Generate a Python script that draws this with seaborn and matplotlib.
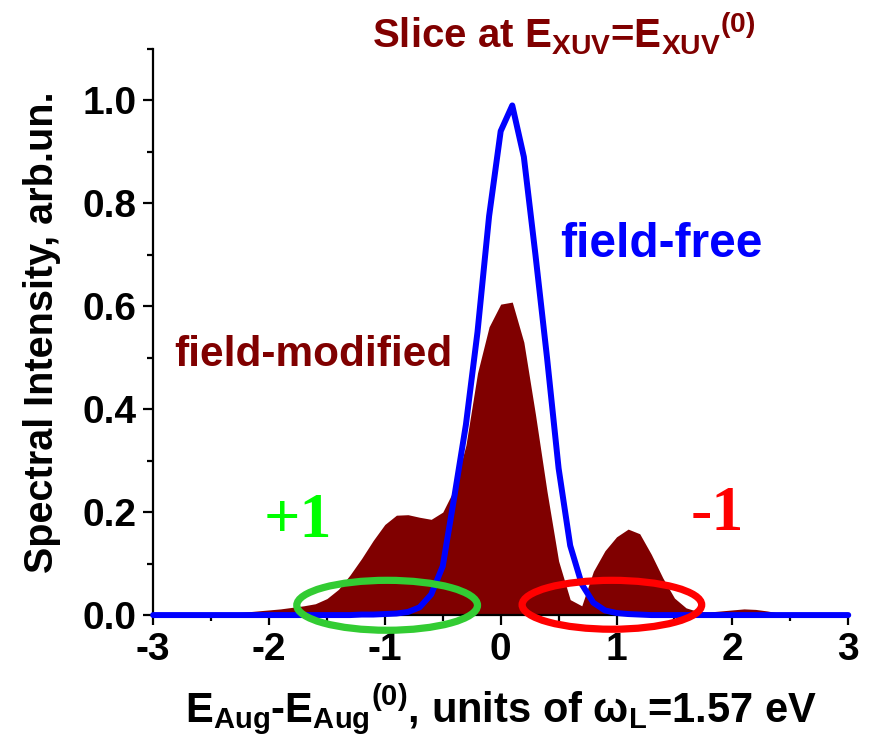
import numpy as np
import pandas as pd
import matplotlib
matplotlib.use("Agg")
import matplotlib.pyplot as plt
from matplotlib.patches import Ellipse
import seaborn as sns

# Energy grid (units of the laser photon energy) and the two spectral slices
energy = np.round(np.arange(-3.0, 3.01, 0.1), 1)

field_free = [
    0, 0, 0, 0, 0, 0, 0, 0, 0, 0,
    0, 0, 0, 0, 0, 0, 0, 0,
    0.001, 0.001, 0.002, 0.003, 0.006, 0.015, 0.04, 0.095, 0.23, 0.37, 0.55, 0.775,
    0.94, 0.99, 0.89, 0.70, 0.50, 0.285, 0.135, 0.06, 0.024, 0.009, 0.004, 0.002, 0.001,
    0, 0, 0, 0, 0, 0, 0, 0, 0, 0, 0, 0, 0, 0, 0, 0, 0, 0,
]

field_modified = [
    0, 0, 0, 0, 0.001, 0.002, 0.003, 0.004, 0.006, 0.008,
    0.010, 0.012, 0.015, 0.018, 0.022, 0.032, 0.05, 0.078, 0.11, 0.145,
    0.176, 0.194, 0.195, 0.19, 0.186, 0.2, 0.245, 0.33, 0.47, 0.56,
    0.604, 0.608, 0.53, 0.39, 0.24, 0.105, 0.03, 0.018, 0.085, 0.125,
    0.152, 0.167, 0.158, 0.118, 0.072, 0.033, 0.014, 0.007, 0.006, 0.008,
    0.010, 0.012, 0.011, 0.008, 0.004, 0.002, 0.001, 0, 0, 0, 0,
]

x_ticks = [-3, -2, -1, 0, 1, 2, 3]
y_ticks = [0.0, 0.2, 0.4, 0.6, 0.8, 1.0]

df = pd.DataFrame({"energy": energy, "free": field_free, "modified": field_modified})

sns.set_theme(style="ticks")
plt.rcParams["font.family"] = ["Liberation Sans", "DejaVu Sans"]
plt.rcParams["font.weight"] = "bold"
plt.rcParams["text.color"] = "black"
plt.rcParams["axes.labelcolor"] = "black"
plt.rcParams["xtick.color"] = "black"
plt.rcParams["ytick.color"] = "black"
plt.rcParams["mathtext.fontset"] = "custom"
plt.rcParams["mathtext.rm"] = "Liberation Sans:bold"
plt.rcParams["mathtext.it"] = "Liberation Sans:bold"
plt.rcParams["mathtext.bf"] = "Liberation Sans:bold"
plt.rcParams["mathtext.sf"] = "Liberation Sans:bold"

DARKRED = "#800000"

fig = plt.figure(figsize=(8.7, 7.51), dpi=100)
ax = fig.add_axes([0.176, 0.181, 0.799, 0.754])

# field-modified spectrum as a filled area
ax.fill_between(df["energy"], 0, df["modified"], color=DARKRED, lw=0, zorder=2)

# field-free spectrum as a thick blue line
sns.lineplot(data=df, x="energy", y="free", color="#0000ff", lw=4.3, ax=ax,
             zorder=4, clip_on=False)

# sideband markers
ax.add_patch(Ellipse((-0.98, 0.019), 1.56, 0.097, fill=False,
                     ec="#33cc33", lw=5.2, zorder=5, clip_on=False))
ax.add_patch(Ellipse((0.96, 0.02), 1.55, 0.095, fill=False,
                     ec="#ff0000", lw=5.2, zorder=5, clip_on=False))

ax.set_xlim(-3, 3)
ax.set_ylim(0, 1.1)
sns.despine(ax=ax)
for side in ("left", "bottom"):
    ax.spines[side].set_linewidth(1.6)
    ax.spines[side].set_color("black")

ax.set_xticks(x_ticks)
ax.set_xticks(np.arange(-2.5, 3, 1.0), minor=True)
ax.set_yticks(y_ticks)
ax.set_yticks(np.arange(0.1, 1.15, 0.2), minor=True)
ax.set_xticklabels([str(t) for t in x_ticks], weight="bold", fontsize=28)
ax.set_yticklabels([f"{t:.1f}" for t in y_ticks], weight="bold", fontsize=28)
ax.tick_params(which="major", direction="out", length=7, width=1.6,
               color="black", pad=5)
ax.tick_params(which="minor", direction="out", length=4.5, width=1.6,
               color="black")

ax.set_xlabel(r"$\mathregular{E_{Aug}}$-$\mathregular{E_{Aug}{}^{(0)}}$, units of "
              r"$\mathregular{\omega_{L}}$=1.57 eV",
              weight="bold", fontsize=30, labelpad=10)
ax.set_ylabel("Spectral Intensity, arb.un.", weight="bold", fontsize=28.5,
              labelpad=15)

fig.text(372 / 870, 1 - 47 / 751,
         r"Slice at $\mathregular{E_{XUV}}$=$\mathregular{E_{XUV}{}^{(0)}}$",
         color=DARKRED, weight="bold", fontsize=29, ha="left", va="baseline")

ax.text(0.51, 0.695, "field-free", color="#0000ff", weight="bold",
        fontsize=34.5, ha="left", va="baseline")
ax.text(-2.82, 0.484, "field-modified", color=DARKRED, weight="bold",
        fontsize=30.5, ha="left", va="baseline")
ax.text(-2.05, 0.151, "+1", color="#00ff00", weight="bold",
        family=["Liberation Serif", "DejaVu Serif"], fontsize=46,
        ha="left", va="baseline")
ax.text(1.64, 0.165, "-1", color="#ff0000", weight="bold",
        family=["Liberation Serif", "DejaVu Serif"], fontsize=46,
        ha="left", va="baseline")

fig.savefig("out.png", dpi=100)
